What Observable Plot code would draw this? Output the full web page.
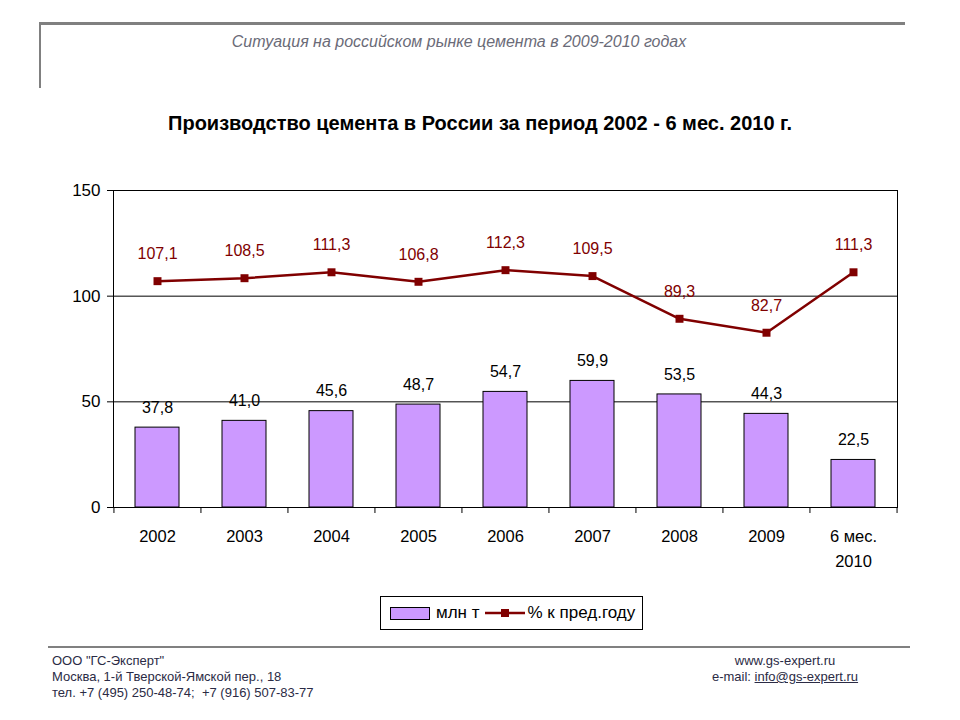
<!DOCTYPE html>
<html><head><meta charset="utf-8">
<script src="https://cdn.jsdelivr.net/npm/d3@7"></script>
<script src="https://cdn.jsdelivr.net/npm/@observablehq/plot@0.6"></script>
<style>
body{margin:0;background:#fff;font-family:Arial,"Liberation Sans",sans-serif;}
#wrap{position:relative;width:960px;height:720px;overflow:hidden;}
.abs{position:absolute;}
#chart{position:absolute;left:0;top:170px;}
</style></head><body>
<div id="wrap">
  <div class="abs" style="left:39px;top:22px;width:866px;height:3px;background:#808080"></div>
  <div class="abs" style="left:39px;top:22px;width:2px;height:66px;background:#808080"></div>
  <div class="abs" style="left:0;width:918px;top:33px;text-align:center;font-style:italic;font-size:16px;color:#6b6b78;">Ситуация на российском рынке цемента в 2009-2010 годах</div>
  <div class="abs" style="left:0;width:960px;top:112px;text-align:center;font-weight:bold;font-size:20px;color:#000;">Производство цемента в России за период 2002 - 6 мес. 2010 г.</div>
  <div id="chart"></div>
  <div class="abs" style="left:380px;top:596px;width:261px;height:32px;border:1px solid #000;display:flex;align-items:center;font-size:17px;">
    <div style="margin-left:9px;width:38px;height:11px;background:#CC99FF;border:1px solid #000"></div>
    <span style="margin-left:6px">млн т</span>
    <svg width="40" height="12" style="margin-left:5px"><line x1="0" y1="6" x2="40" y2="6" stroke="#800000" stroke-width="2.5"/><rect x="16" y="2" width="8" height="8" fill="#800000"/></svg>
    <span style="margin-left:3px">% к пред.году</span>
  </div>
  <div class="abs" style="left:48px;top:646px;width:862px;height:2px;background:#808080"></div>
  <div class="abs" style="left:52px;top:653px;font-size:13px;line-height:16px;color:#2b2b45;">ООО "ГС-Эксперт"<br>Москва, 1-й Тверской-Ямской пер., 18<br>тел. +7 (495) 250-48-74;&nbsp; +7 (916) 507-83-77</div>
  <div class="abs" style="left:700px;width:170px;top:653px;font-size:13px;line-height:16px;color:#2b2b45;text-align:center;">www.gs-expert.ru<br>e-mail: <span style="text-decoration:underline">info@gs-expert.ru</span></div>
</div>
<script>
const categories = ["2002","2003","2004","2005","2006","2007","2008","2009","6 мес.\n2010"];
const volume = [37.8, 41.0, 45.6, 48.7, 54.7, 59.9, 53.5, 44.3, 22.5];
const pctPrev = [107.1, 108.5, 111.3, 106.8, 112.3, 109.5, 89.3, 82.7, 111.3];
const yTicks = [0, 50, 100, 150];
const gridLines = [50, 100];

const data = categories.map((c, i) => ({cat: c, vol: volume[i], pct: pctPrev[i]}));
const fmt = v => v.toFixed(1).replace(".", ",");

const W = 960, H = 420, mL = 113, mR = 63, mT = 20, mB = 83;
const plotH = H - mT - mB;
const bw = (W - mL - mR) / categories.length;
const font = 'Arial, "Liberation Sans", sans-serif';

const chart = Plot.plot({
  width: W, height: H,
  marginLeft: mL, marginRight: mR, marginTop: mT, marginBottom: mB,
  style: {fontFamily: font, fontSize: "16px", color: "#000", background: "transparent"},
  x: {domain: categories, paddingInner: 0.5, paddingOuter: 0.25, label: null},
  y: {domain: [0, 150], ticks: yTicks, label: null},
  marks: [
    Plot.ruleY(gridLines, {stroke: "#000", strokeWidth: 1}),
    Plot.barY(data, {x: "cat", y: "vol", fill: "#CC99FF", stroke: "#000", strokeWidth: 1}),
    Plot.text(data, {x: "cat", y: "vol", text: d => fmt(d.vol), dy: -20, fontSize: 16, fill: "#000"}),
    Plot.line(data, {x: "cat", y: "pct", stroke: "#800000", strokeWidth: 2.5}),
    Plot.dot(data, {x: "cat", y: "pct", symbol: "square", r: 4.5, fill: "#800000", stroke: "none"}),
    Plot.text(data, {x: "cat", y: "pct", text: d => fmt(d.pct), dy: -27, fontSize: 16, fill: "#800000"}),
    Plot.frame({stroke: "#000", strokeWidth: 1}),
    Plot.ruleX(categories, {x: d => d, dx: -bw / 2, insetTop: plotH, insetBottom: -6, stroke: "#000"}),
    Plot.ruleX(categories.slice(-1), {x: d => d, dx: bw / 2, insetTop: plotH, insetBottom: -6, stroke: "#000"}),
    Plot.axisY({ticks: yTicks, tickSize: 6, tickPadding: 7, fontSize: 17, label: null, stroke: "#000"}),
    Plot.axisX({tickSize: 0, tickPadding: 17, fontSize: 16.5, label: null, lineHeight: 1.5})
  ]
});
document.getElementById("chart").appendChild(chart);
</script>
</body></html>
